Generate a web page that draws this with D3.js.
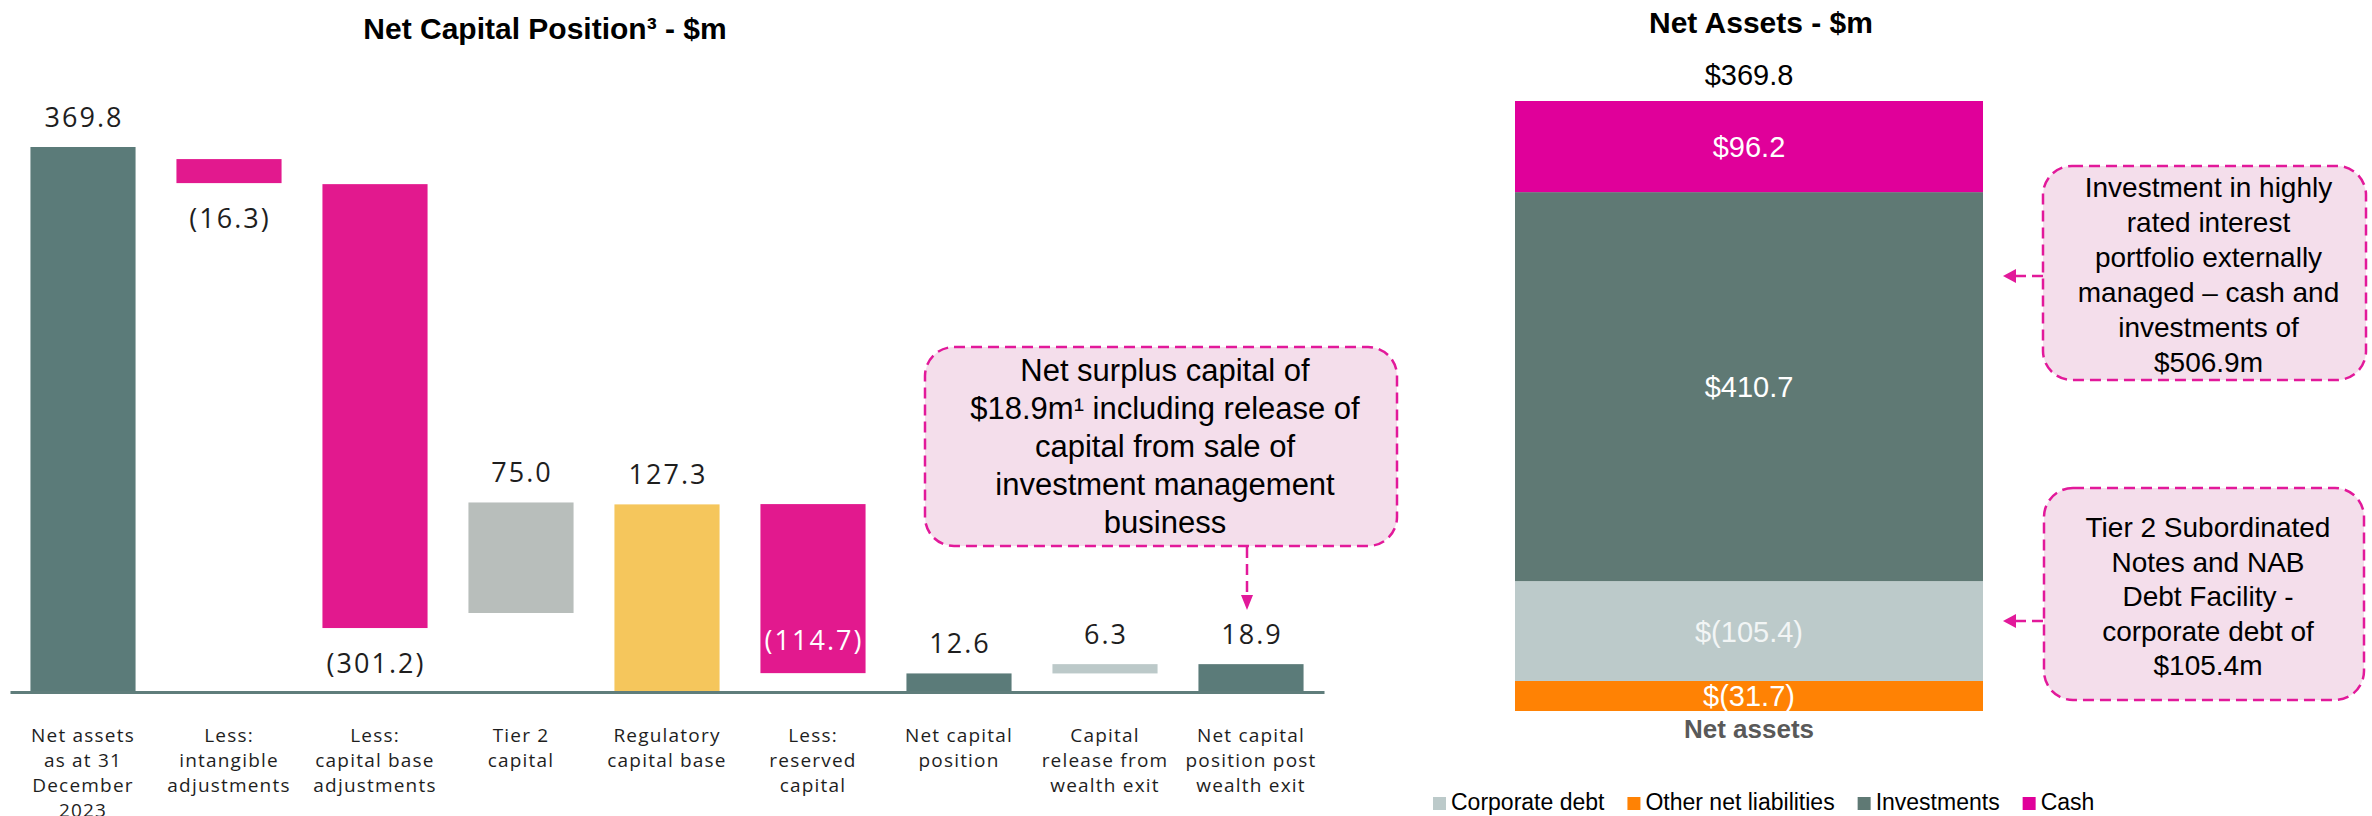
<!DOCTYPE html>
<html>
<head>
<meta charset=utf-8>
<title>Net Capital Position and Net Assets</title>
<style>
  body { margin: 0; background: #fff; }
  svg { display: block; }
</style>
</head>
<body>
<script src="https://d3js.org/d3.v7.min.js"></script>
<script>
// colours
var teal = "#5b7b79", magenta = "#e2198e", tierGrey = "#b8bebb", gold = "#f5c65c", paleGrey = "#bcc9c9";
var navyText = "#1e1e1e", calloutFill = "#f4deeb", calloutLine = "#e2199a";
var arial = "'Liberation Sans', Arial, sans-serif";
var gotham = "'Open Sans', 'Noto Sans', sans-serif";

// ---- left chart data: waterfall ----
var categories = [
  "Net assets|as at 31|December|2023",
  "Less:|intangible|adjustments",
  "Less:|capital base|adjustments",
  "Tier 2|capital",
  "Regulatory|capital base",
  "Less:|reserved|capital",
  "Net capital|position",
  "Capital|release from|wealth exit",
  "Net capital|position post|wealth exit"
];
var values = [369.8, -16.3, -301.2, 75.0, 127.3, -114.7, 12.6, 6.3, 18.9];
// where each bar starts, as drawn in the picture
var barFrom = [0, 361.6, 344.6, 53.6, 0, 127.5, 0, 12.6, 0];
var barType = ["total", "less", "less", "tier2", "base", "less", "total", "release", "total"];
var labelPos = ["above", "below", "below", "above", "above", "inside", "above", "above", "above"];

// ---- right chart data: stacked net assets ----
var assetKeys = ["Corporate debt", "Other net liabilities", "Investments", "Cash"];
var assetValues = [-105.4, -31.7, 410.7, 96.2];
var stackOrder = ["Other net liabilities", "Corporate debt", "Investments", "Cash"]; // bottom to top
var netAssetsTotal = 369.8;

var typeColour = { total: teal, less: magenta, tier2: tierGrey, base: gold, release: paleGrey };
var assetColour = { "Corporate debt": "#bccaca", "Other net liabilities": "#ff8204", "Investments": "#5f7974", "Cash": "#e0009a" };

var svg = d3.select("body").append("svg")
    .attr("width", 2372)
    .attr("height", 816);

// ================= left: Net Capital Position =================
var x = d3.scaleBand().domain(categories).range([10, 1324]).paddingInner(0.28).paddingOuter(0.14);
var y = d3.scaleLinear().domain([0, 369.8]).range([692, 147]);

svg.append("text")
    .attr("x", 545).attr("y", 39)
    .attr("text-anchor", "middle")
    .style("font-family", arial).style("font-weight", "bold").style("font-size", "30px")
    .text("Net Capital Position\u00b3 - $m");

var left = svg.append("g");

left.selectAll("rect.bar")
    .data(values)
    .join("rect")
    .attr("class", "bar")
    .attr("x", function(d, i) { return x(categories[i]); })
    .attr("width", x.bandwidth())
    .attr("y", function(d, i) { return y(Math.max(barFrom[i], barFrom[i] + d)); })
    .attr("height", function(d, i) { return Math.abs(y(barFrom[i]) - y(barFrom[i] + d)); })
    .attr("fill", function(d, i) { return typeColour[barType[i]]; });

function fmtVal(v) { return v < 0 ? "(" + Math.abs(v).toFixed(1) + ")" : v.toFixed(1); }

left.selectAll("text.val")
    .data(values)
    .join("text")
    .attr("class", "val")
    .attr("x", function(d, i) { return x(categories[i]) + x.bandwidth() / 2 + 1; })
    .attr("y", function(d, i) {
        var top = y(Math.max(barFrom[i], barFrom[i] + d));
        var bottom = y(Math.min(barFrom[i], barFrom[i] + d));
        if (labelPos[i] == "above") return top - 20;
        if (labelPos[i] == "below") return bottom + 45;
        return bottom - 23;
    })
    .attr("text-anchor", "middle")
    .style("font-family", gotham).style("font-size", "27px").style("letter-spacing", "2px")
    .attr("fill", function(d, i) { return labelPos[i] == "inside" ? "#fff" : navyText; })
    .text(fmtVal);

var xAxis = left.append("g")
    .attr("transform", "translate(0," + y(0) + ")")
    .call(d3.axisBottom(x).tickSize(0).tickFormat(""));
xAxis.select(".domain").attr("stroke", "#5f7d7b").attr("stroke-width", 3);
xAxis.selectAll(".tick text").remove();
xAxis.selectAll(".tick").append("text")
    .attr("text-anchor", "middle")
    .attr("fill", navyText)
    .style("font-family", gotham).style("font-size", "19px").style("letter-spacing", "1.2px")
    .each(function(d) {
        var t = d3.select(this);
        d.split("|").forEach(function(line, k) {
            t.append("tspan").attr("x", 0).attr("y", 50 + k * 25).text(line);
        });
    });

// dashed rounded box with centred lines of text
function callout(g, bx, by, bw, bh, lines, size, lineH, firstBase) {
    g.append("rect")
        .attr("x", bx).attr("y", by).attr("width", bw).attr("height", bh)
        .attr("rx", 29).attr("ry", 29)
        .attr("fill", calloutFill)
        .attr("stroke", calloutLine).attr("stroke-width", 2.5)
        .attr("stroke-dasharray", "11,6");
    var t = g.append("text")
        .attr("text-anchor", "middle")
        .style("font-family", arial).style("font-size", size + "px")
        .attr("fill", "#000");
    lines.forEach(function(line, k) {
        t.append("tspan").attr("x", bx + bw / 2 + 4).attr("y", firstBase + k * lineH).text(line);
    });
}

var surplusNote = ["Net surplus capital of", "$18.9m\u00b9 including release of", "capital from sale of", "investment management", "business"];
callout(svg.append("g"), 925, 347, 472, 199, surplusNote, 31, 38, 381);

var arrowX = x(categories[8]) + x.bandwidth() / 2 - 4;
svg.append("line")
    .attr("x1", arrowX).attr("x2", arrowX).attr("y1", 547).attr("y2", 597)
    .attr("stroke", calloutLine).attr("stroke-width", 2.5).attr("stroke-dasharray", "11,6");
svg.append("path")
    .attr("d", d3.line()([[arrowX - 6, 595], [arrowX + 6, 595], [arrowX, 610]]))
    .attr("fill", calloutLine);

// ================= right: Net Assets =================
var xR = d3.scaleBand().domain(["Net assets"]).range([1515, 1983]);
var yR = d3.scaleLinear().domain([0, d3.sum(assetValues, Math.abs)]).range([711, 101]);

svg.append("text")
    .attr("x", 1761).attr("y", 33)
    .attr("text-anchor", "middle")
    .style("font-family", arial).style("font-weight", "bold").style("font-size", "30px")
    .text("Net Assets - $m");

var row = { cat: "Net assets" };
assetKeys.forEach(function(k, i) { row[k] = assetValues[i]; });
var stacked = d3.stack().keys(stackOrder).value(function(d, k) { return Math.abs(d[k]); })([row]);

var right = svg.append("g");
right.selectAll("rect.seg")
    .data(stacked)
    .join("rect")
    .attr("class", "seg")
    .attr("x", xR("Net assets"))
    .attr("width", xR.bandwidth())
    .attr("y", function(s) { return yR(s[0][1]); })
    .attr("height", function(s) { return yR(s[0][0]) - yR(s[0][1]); })
    .attr("fill", function(s) { return assetColour[s.key]; });

right.selectAll("text.seg")
    .data(stacked)
    .join("text")
    .attr("class", "seg")
    .attr("x", xR("Net assets") + xR.bandwidth() / 2)
    .attr("y", function(s) { return (yR(s[0][0]) + yR(s[0][1])) / 2 + 10.5; })
    .attr("text-anchor", "middle")
    .style("font-family", arial).style("font-size", "29px")
    .attr("fill", function(s) { return s.key == "Corporate debt" ? "#f2f5f5" : "#fff"; })
    .text(function(s) {
        var v = row[s.key];
        return v < 0 ? "$(" + Math.abs(v).toFixed(1) + ")" : "$" + v.toFixed(1);
    });

right.append("text")
    .attr("x", xR("Net assets") + xR.bandwidth() / 2)
    .attr("y", yR(d3.sum(assetValues, Math.abs)) - 16)
    .attr("text-anchor", "middle")
    .style("font-family", arial).style("font-size", "29px")
    .text("$" + netAssetsTotal.toFixed(1));

var xRAxis = right.append("g")
    .attr("transform", "translate(0," + yR(0) + ")")
    .call(d3.axisBottom(xR).tickSize(0));
xRAxis.select(".domain").remove();
xRAxis.selectAll(".tick text")
    .attr("y", 27).attr("dy", 0)
    .attr("fill", "#595959")
    .style("font-family", arial).style("font-weight", "bold").style("font-size", "26px");

// legend
var legend = svg.append("g");
var lx = 1433;
assetKeys.forEach(function(k) {
    legend.append("rect").attr("x", lx).attr("y", 797).attr("width", 13).attr("height", 13)
        .attr("fill", assetColour[k]);
    var t = legend.append("text").attr("x", lx + 18).attr("y", 810)
        .style("font-family", arial).style("font-size", "23px").attr("fill", "#000")
        .text(k);
    lx += 18 + t.node().getComputedTextLength() + 23;
});

// callouts on the right
var portfolioNote = ["Investment in highly", "rated interest", "portfolio externally", "managed \u2013 cash and", "investments of", "$506.9m"];
var debtNote = ["Tier 2 Subordinated", "Notes and NAB", "Debt Facility -", "corporate debt of", "$105.4m"];
callout(svg.append("g"), 2043, 166, 323, 214, portfolioNote, 28, 35, 197);
callout(svg.append("g"), 2044, 488, 320, 212, debtNote, 28, 34.6, 537);

[276, 621].forEach(function(ay) {
    svg.append("line")
        .attr("x1", 2043).attr("x2", 2012).attr("y1", ay).attr("y2", ay)
        .attr("stroke", calloutLine).attr("stroke-width", 2.5).attr("stroke-dasharray", "11,6");
    svg.append("path")
        .attr("d", d3.line()([[2016, ay - 7], [2016, ay + 7], [2003, ay]]))
        .attr("fill", calloutLine);
});
</script>
</body>
</html>
